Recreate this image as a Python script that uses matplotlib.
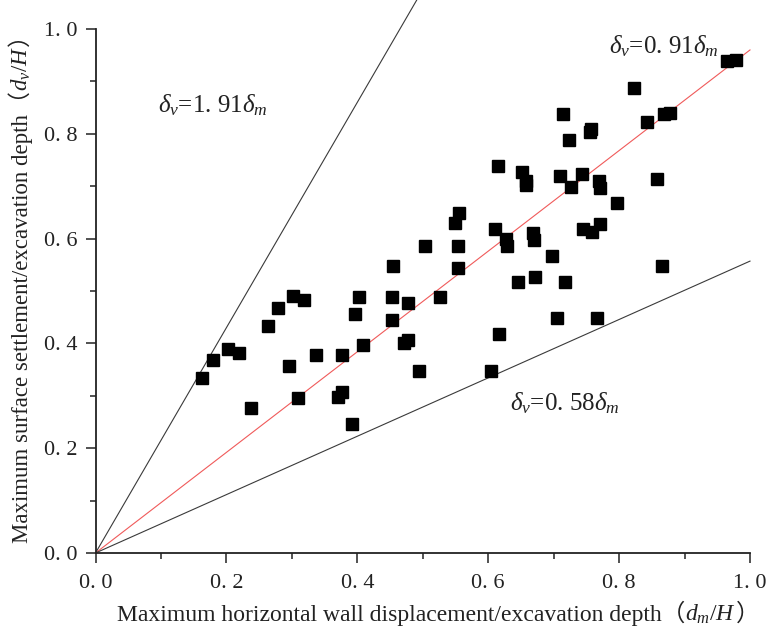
import matplotlib
matplotlib.use('Agg')
import matplotlib.pyplot as plt
from matplotlib.ticker import MultipleLocator

plt.rcParams['mathtext.fontset'] = 'custom'
plt.rcParams['mathtext.rm'] = 'Liberation Serif'
plt.rcParams['mathtext.it'] = 'Liberation Serif:italic'
plt.rcParams['font.family'] = ['Liberation Serif', 'Noto Sans CJK SC']

# ---- data ----
x_vals = [0.162, 0.179, 0.202, 0.219, 0.238, 0.263, 0.279, 0.302, 0.319, 0.296,
          0.309, 0.337, 0.376, 0.371, 0.377, 0.392, 0.403, 0.397, 0.409, 0.453,
          0.453, 0.477, 0.471, 0.477, 0.494, 0.455, 0.965, 0.978, 0.823, 0.843,
          0.868, 0.878, 0.715, 0.757, 0.755, 0.724, 0.615, 0.652, 0.658, 0.657,
          0.710, 0.743, 0.727, 0.770, 0.771, 0.858, 0.797, 0.556, 0.550, 0.503,
          0.554, 0.610, 0.627, 0.628, 0.668, 0.670, 0.698, 0.745, 0.759, 0.771,
          0.554, 0.646, 0.671, 0.717, 0.866, 0.527, 0.705, 0.766, 0.617, 0.604]
y_vals = [0.333, 0.368, 0.389, 0.382, 0.277, 0.434, 0.468, 0.490, 0.483, 0.356,
          0.296, 0.377, 0.377, 0.298, 0.307, 0.246, 0.488, 0.457, 0.396, 0.488,
          0.445, 0.478, 0.400, 0.406, 0.347, 0.548, 0.938, 0.941, 0.887, 0.823,
          0.838, 0.839, 0.838, 0.809, 0.804, 0.788, 0.739, 0.728, 0.709, 0.702,
          0.719, 0.723, 0.698, 0.709, 0.697, 0.714, 0.668, 0.648, 0.629, 0.586,
          0.586, 0.618, 0.599, 0.586, 0.610, 0.597, 0.567, 0.618, 0.613, 0.628,
          0.544, 0.517, 0.527, 0.517, 0.548, 0.488, 0.448, 0.448, 0.418, 0.347]

# reference lines (slopes as drawn in the picture) and their end x
line_slopes = [2.15, 0.96, 0.557]
line_end_x = [0.5, 1.0, 1.0]
line_colors = ['#3a3a3a', '#f05a5a', '#3a3a3a']

labels_text = [r'$\delta_v$=1. 91$\delta_m$', r'$\delta_v$=0. 91$\delta_m$', r'$\delta_v$=0. 58$\delta_m$']
labels_pos = [(0.096, 0.840), (0.784, 0.954), (0.634, 0.273)]

tick_vals = [0.0, 0.2, 0.4, 0.6, 0.8, 1.0]
tick_labels = ['0. 0', '0. 2', '0. 4', '0. 6', '0. 8', '1. 0']

xlabel_main = 'Maximum horizontal wall displacement/excavation depth（'
xlabel_math = r'$d_m/H$'
ylabel_main = 'Maximum surface settlement/excavation depth（'
ylabel_math = r'$d_v/H$'
close_paren = '）'

# ---- figure ----
fig = plt.figure(figsize=(7.66, 6.33), dpi=100)
ax = fig.add_axes([0.1247, 0.1264, 0.8544, 0.8278])

for s, xe, c in zip(line_slopes, line_end_x, line_colors):
    ax.plot([0, xe], [0, s * xe], color=c, lw=0.8, clip_on=False, zorder=2)

ax.plot(x_vals, y_vals, linestyle='none', marker='s', ms=8.3, color='black', zorder=3)

for t, (px, py) in zip(labels_text, labels_pos):
    ax.text(px, py, t, fontsize=18, va='baseline', ha='left', color='#222222')

ax.set_xlim(0, 1)
ax.set_ylim(0, 1)
ax.set_xticks(tick_vals)
ax.set_xticklabels(tick_labels)
ax.set_yticks(tick_vals)
ax.set_yticklabels(tick_labels)
ax.xaxis.set_minor_locator(MultipleLocator(0.1))
ax.yaxis.set_minor_locator(MultipleLocator(0.1))
ax.tick_params(which='major', direction='out', length=7, width=1.1, labelsize=16, colors='#222222')
ax.tick_params(which='minor', direction='out', length=4, width=1.1, colors='#222222')
ax.tick_params(axis='x', which='major', pad=8)
ax.tick_params(axis='y', which='major', pad=6)
for side in ['top', 'right']:
    ax.spines[side].set_visible(False)
for side in ['left', 'bottom']:
    ax.spines[side].set_linewidth(1.3)
    ax.spines[side].set_color('#222222')

# x label (pieces chained so the full-width brackets and math both render)
fs_xlab = 17
fs_ylab = 16.5
tx1 = fig.text(117 / 766, 1 - 626 / 633, xlabel_main, fontsize=fs_xlab, ha='left', va='bottom', color='#222222')
tx2 = ax.annotate(xlabel_math, xy=(1, 0), xycoords=tx1, ha='left', va='bottom', fontsize=fs_xlab, color='#222222')
tx3 = ax.annotate(close_paren, xy=(1, 0), xycoords=tx2, ha='left', va='bottom', fontsize=fs_xlab, color='#222222')

# y label
ty1 = fig.text(21 / 766, 1 - 543 / 633, ylabel_main, fontsize=fs_ylab, rotation=90, ha='center', va='bottom', color='#222222')
ty2 = ax.annotate(ylabel_math, xy=(0.5, 1), xycoords=ty1, ha='center', va='bottom', rotation=90, fontsize=fs_ylab, color='#222222')
ty3 = ax.annotate(close_paren, xy=(0.5, 1), xycoords=ty2, ha='center', va='bottom', rotation=90, fontsize=fs_ylab, color='#222222')

fig.savefig('out.png', dpi=100)
